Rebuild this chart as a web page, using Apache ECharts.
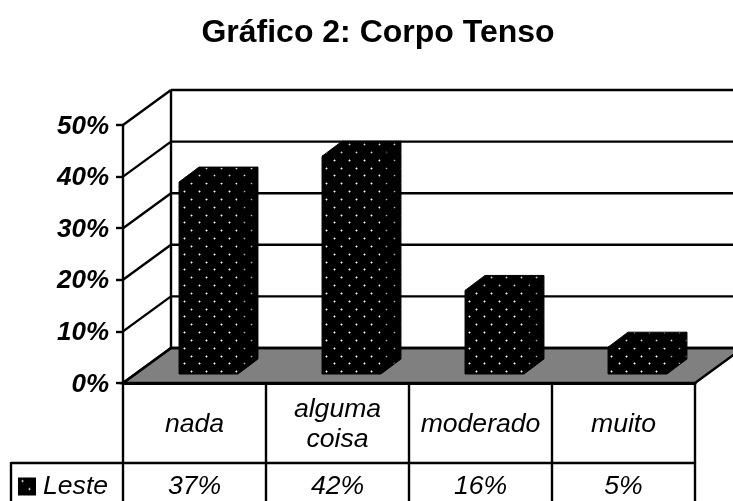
<!DOCTYPE html>
<html><head><meta charset="utf-8">
<style>html,body{margin:0;padding:0;background:#fff;overflow:hidden}#c{width:733px;height:501px}</style>
<script src="https://cdn.jsdelivr.net/npm/echarts@6/dist/echarts.min.js"></script>
</head><body><div id="c"></div>
<script>
const categories = ['nada', 'alguma\ncoisa', 'moderado', 'muito'];
const seriesName = 'Leste';
const leste = [37, 42, 16, 5];
const tableLabels = ['37%', '42%', '16%', '5%'];
const yTicks = [0, 10, 20, 30, 40, 50];
const titleText = 'Gráfico 2: Corpo Tenso';

const FONT = '"Liberation Sans", Arial, sans-serif';
const WALL = { dx: 48, dy: -35 };
const BAR = { gapX: 12, gapY: -10, dx: 20, dy: -15, widthRatio: 0.412, shift: 2 };

function dotTile(core, halo) {
  const w = 15, h = 47, cv = document.createElement('canvas');
  cv.width = w; cv.height = h;
  const g = cv.getContext('2d');
  g.fillStyle = '#000'; g.fillRect(0, 0, w, h);
  for (let r = 0; r < 6; r++) {
    const x = r % 2 ? 11 : 4, y = Math.round(r * 47 / 6) + 3;
    g.fillStyle = halo; g.fillRect(x - 1, y, 3, 1); g.fillRect(x, y - 1, 1, 3);
    g.fillStyle = core; g.fillRect(x, y, 1, 1);
  }
  return { image: cv, repeat: 'repeat' };
}
const frontFill = dotTile('#ffffff', '#777777');
const sideFill = dotTile('#a8a8a8', '#303030');
const topFill = dotTile('#d8d8d8', '#505050');

function renderWall(params, api) {
  const cs = params.coordSys;
  const left = cs.x, right = cs.x + cs.width;
  const y = api.coord([0, api.value(0)])[1];
  const lineStyle = { stroke: '#000', lineWidth: 2.4, fill: null };
  const children = [];
  if (api.value(0) === 0) {
    children.push({ type: 'polygon', shape: { points: [[left, y], [left + WALL.dx, y + WALL.dy], [right + WALL.dx, y + WALL.dy], [right, y]] },
      style: { fill: '#808080', stroke: '#000', lineWidth: 2.4 } });
    children.push({ type: 'line', shape: { x1: left + WALL.dx, y1: y + WALL.dy, x2: left + WALL.dx, y2: cs.y + WALL.dy },
      style: lineStyle });
  }
  children.push({ type: 'line', shape: { x1: left + WALL.dx, y1: y + WALL.dy, x2: right + WALL.dx, y2: y + WALL.dy }, style: lineStyle });
  children.push({ type: 'line', shape: { x1: left, y1: y, x2: left + WALL.dx, y2: y + WALL.dy }, style: lineStyle });
  return { type: 'group', children };
}

function renderBar(params, api) {
  const idx = api.value(0);
  const top = api.coord([idx, api.value(1)]);
  const base = api.coord([idx, 0]);
  const w = api.size([1, 0])[0] * BAR.widthRatio;
  const x0 = top[0] + BAR.gapX + BAR.shift - w / 2, x1 = x0 + w;
  const yT = top[1] + BAR.gapY, yB = base[1] + BAR.gapY + 1;
  const d = BAR;
  const edge = { stroke: '#000', lineWidth: 1 };
  return { type: 'group', children: [
    { type: 'polygon', shape: { points: [[x1, yT], [x1 + d.dx, yT + d.dy], [x1 + d.dx, yB + d.dy], [x1, yB]] }, style: Object.assign({ fill: sideFill }, edge) },
    { type: 'polygon', shape: { points: [[x0, yT], [x0 + d.dx, yT + d.dy], [x1 + d.dx, yT + d.dy], [x1, yT]] }, style: Object.assign({ fill: topFill }, edge) },
    { type: 'rect', shape: { x: x0, y: yT, width: w, height: yB - yT }, style: Object.assign({ fill: frontFill }, edge) }
  ] };
}

const labelFont = { fontFamily: FONT, fontStyle: 'italic', fontSize: 26.6, color: '#000' };
const chart = echarts.init(document.getElementById('c'), null, { renderer: 'canvas' });
chart.setOption({
  animation: false,
  backgroundColor: '#fff',
  title: { text: titleText, left: 373, top: 12, textAlign: 'center',
    textStyle: { fontFamily: FONT, fontWeight: 'bold', fontSize: 32, color: '#000' } },
  legend: { show: true, left: 18, top: 473, itemWidth: 18, itemHeight: 18, itemGap: 6, padding: 0,
    data: [{ name: seriesName, icon: 'rect', itemStyle: { color: frontFill } }],
    formatter: '{t|{name}}',
    textStyle: { rich: { t: Object.assign({}, labelFont, { padding: [0, 0, 0, 2] }) } } },
  grid: { left: 123, right: 38, top: 125, bottom: 118, containLabel: false },
  xAxis: [
    { type: 'category', data: categories, position: 'bottom',
      axisLine: { show: true, lineStyle: { color: '#000', width: 3 } },
      axisTick: { show: true, length: 118, alignWithLabel: false, lineStyle: { color: '#000', width: 2.4 } },
      axisLabel: Object.assign({ margin: 42, interval: 0, verticalAlign: 'middle', lineHeight: 30 }, labelFont) },
    { type: 'category', data: tableLabels, position: 'bottom', offset: 80,
      axisLine: { show: true, lineStyle: { color: '#000', width: 2.4 } },
      axisTick: { show: false },
      axisLabel: Object.assign({ margin: 24, interval: 0, verticalAlign: 'middle' }, labelFont) }
  ],
  yAxis: { type: 'value', min: 0, max: 50, interval: 10,
    axisLine: { show: true, lineStyle: { color: '#000', width: 2.4 } },
    axisTick: { show: true, length: 7, lineStyle: { color: '#000', width: 2.4 } },
    splitLine: { show: false },
    axisLabel: { formatter: '{t|{value}%}', margin: 14,
      rich: { t: { padding: [3, 0, 0, 0], fontFamily: FONT, fontWeight: 'bold', fontStyle: 'italic', fontSize: 26, color: '#000' } } } },
  graphic: [
    { type: 'line', shape: { x1: 11, y1: 463, x2: 123, y2: 463 }, style: { stroke: '#000', lineWidth: 2.4 }, silent: true },
    { type: 'line', shape: { x1: 11, y1: 462, x2: 11, y2: 501 }, style: { stroke: '#000', lineWidth: 2.4 }, silent: true }
  ],
  series: [
    { type: 'custom', name: 'walls', silent: true, clip: false, z: 1, renderItem: renderWall,
      encode: { y: 0 }, data: yTicks.map(v => [v]) },
    { type: 'custom', name: seriesName, silent: true, clip: false, z: 3, renderItem: renderBar,
      itemStyle: { color: '#000' }, encode: { x: 0, y: 1 },
      data: leste.map((v, i) => [i, v]) }
  ]
});
</script></body></html>
